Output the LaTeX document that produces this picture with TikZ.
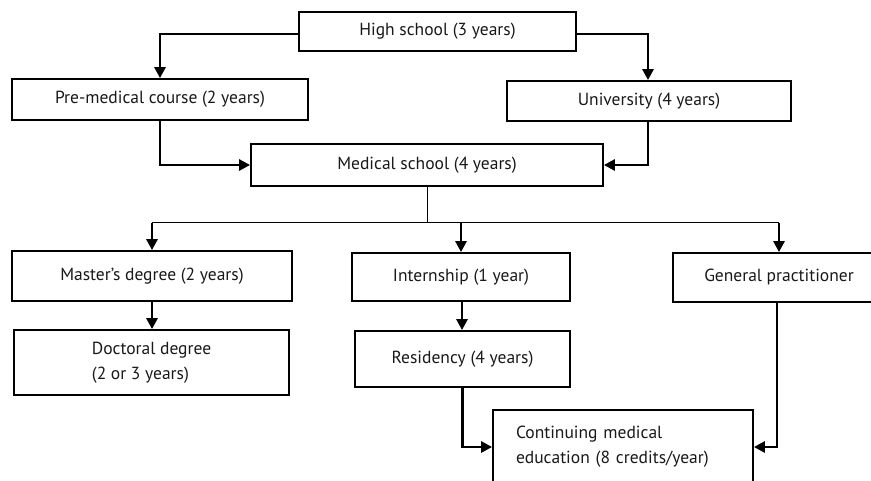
\documentclass[tikz,border=0pt]{standalone}
\usepackage{fontspec}
\setmainfont{PT Sans}
\usetikzlibrary{arrows.meta}
\begin{document}
\begin{tikzpicture}[x=1pt,y=-1pt,
  box/.style={draw=black,line width=1.8pt,rectangle,inner sep=0pt,font=\fontsize{17.5}{25}\selectfont,text=black!90},
  arr/.style={line width=2.8pt,-{Triangle[length=11pt,width=11pt]}},
  thin/.style={line width=0.9pt}]
\useasboundingbox (0,0) rectangle (871,480);
\clip (0,0) rectangle (871,480);
\fill[white] (0,0) rectangle (871,480);
\node[box,minimum width=277pt,minimum height=39pt] (hs) at (437.5,31.5) {High school (3 years)};
\node[box,minimum width=296pt,minimum height=41pt] (pre) at (160,99.5) {Pre-medical course (2 years)};
\node[box,minimum width=284pt,minimum height=40pt] (uni) at (649,101) {University (4 years)};
\node[box,minimum width=352pt,minimum height=42pt] (med) at (427,165) {Medical school (4 years)};
\node[box,minimum width=280pt,minimum height=50pt] (mas) at (152,276) {Master’s degree (2 years)};
\node[box,minimum width=275pt,minimum height=65pt,align=left] (doc) at (151.5,362.5) {Doctoral degree\\(2 or 3 years)};
\node[box,minimum width=218pt,minimum height=48pt] (int) at (461,277) {Internship (1 year)};
\node[box,minimum width=215pt,minimum height=56pt] (res) at (462.5,359) {Residency (4 years)};
\node[box,minimum width=212pt,minimum height=49pt] (gp) at (779,277.5) {General practitioner};
\node[box,minimum height=74pt,inner xsep=23pt,text width=214pt,align=left] (cme) at (623,447) {Continuing medical\\education (8 credits/year)};
% top connectors
\draw[arr] ([yshift=-2.5pt]hs.west) -| (pre.north);
\draw[arr] ([yshift=-2.5pt]hs.east) -| ([xshift=-1pt]uni.north);
\draw[arr] (pre.south) |- (med.west);
\draw[arr] ([xshift=-1pt]uni.south) |- (med.east);
% split
\coordinate (sp) at (427,222);
\coordinate (spl) at (152,222);
\coordinate (spm) at (461,222);
\coordinate (spr) at (779,222);
\draw[thin] (med.south) -- (sp);
\draw[thin] (spl) -- (spr);
\draw[arr] ([yshift=-0.5pt]spl) -- (mas.north);
\draw[arr] ([yshift=-0.5pt]spm) -- (int.north);
\draw[arr] ([yshift=-0.5pt]spr) -- (gp.north);
% lower connectors
\draw[arr] (mas.south) -- (mas.south |- doc.north);
\draw[arr] ([xshift=1pt]int.south) -- ([xshift=1pt]int.south |- res.north);
\draw[arr] (res.south) |- (cme.west);
\draw[arr] ([xshift=-2pt]gp.south) |- (cme.east);
\end{tikzpicture}
\end{document}
